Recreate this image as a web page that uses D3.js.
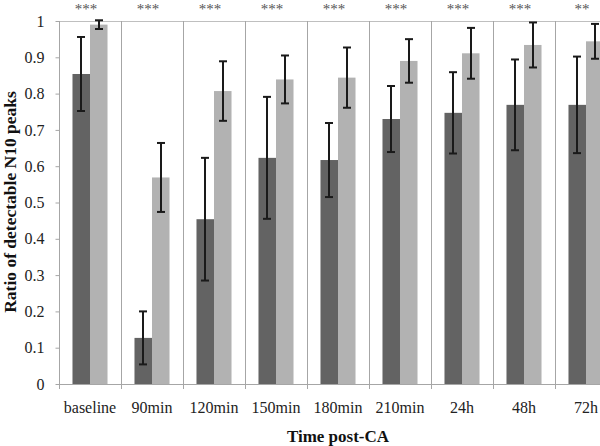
<!DOCTYPE html>
<html><head><meta charset="utf-8">
<script src="https://cdn.jsdelivr.net/npm/d3@7"></script>
<style>body{margin:0;background:#fff}svg{display:block}</style>
</head><body>
<script>
const categories = ["baseline","90min","120min","150min","180min","210min","24h","48h","72h"];
const darkValues = [0.854,0.127,0.454,0.623,0.617,0.730,0.747,0.769,0.769];
const darkErrors = [0.102,0.073,0.169,0.168,0.102,0.091,0.112,0.125,0.133];
const lightValues = [0.990,0.569,0.807,0.839,0.844,0.890,0.911,0.934,0.944];
const lightErrors = [0.012,0.095,0.082,0.066,0.083,0.060,0.070,0.062,0.048];
const significance = ["***","***","***","***","***","***","***","***","**"];
const yTicks = [0,0.1,0.2,0.3,0.4,0.5,0.6,0.7,0.8,0.9,1];

const W=600,H=446;
const mLeft=59, mTop=21, mBottom=384, catW=62;
const font="'Liberation Serif','Times New Roman',serif";
const svg=d3.select("body").append("svg").attr("width",W).attr("height",H);
const x=d3.scaleBand().domain(categories).range([mLeft,mLeft+catW*categories.length]).paddingInner(0).paddingOuter(0);
const y=d3.scaleLinear().domain([0,1]).range([mBottom,mTop]);
const sub=d3.scaleBand().domain(["d","l"]).range([0,x.bandwidth()]).paddingOuter(0.77).paddingInner(0);

const grid="#a6a6a6";
// top border
svg.append("line").attr("x1",mLeft).attr("x2",W).attr("y1",mTop+0.5).attr("y2",mTop+0.5).attr("stroke","#bfbfbf");
// category separators
svg.append("g").selectAll("line").data(categories).join("line")
 .attr("x1",d=>x(d)+x.bandwidth()+0.5).attr("x2",d=>x(d)+x.bandwidth()+0.5)
 .attr("y1",mTop).attr("y2",mBottom+5).attr("stroke",grid);

const series=[{k:"d",v:darkValues,e:darkErrors,c:"#636363"},{k:"l",v:lightValues,e:lightErrors,c:"#b2b2b2"}];
series.forEach(s=>{
 const g=svg.append("g");
 g.selectAll("rect").data(categories).join("rect")
  .attr("x",(d)=>x(d)+sub(s.k)).attr("width",sub.bandwidth())
  .attr("y",(d,i)=>y(s.v[i])).attr("height",(d,i)=>y(0)-y(s.v[i])).attr("fill",s.c);
});
series.forEach(s=>{
 const g=svg.append("g").attr("stroke","#1a1a1a").attr("stroke-width",2);
 categories.forEach((d,i)=>{
  const cx=Math.round(x(d)+sub(s.k)+sub.bandwidth()/2);
  const y1=y(s.v[i]+s.e[i]), y2=y(s.v[i]-s.e[i]);
  g.append("line").attr("x1",cx).attr("x2",cx).attr("y1",y1).attr("y2",y2);
  g.append("line").attr("x1",cx-4).attr("x2",cx+4).attr("y1",y1).attr("y2",y1);
  g.append("line").attr("x1",cx-4).attr("x2",cx+4).attr("y1",y2).attr("y2",y2);
 });
});

// y axis
const yAxis=d3.axisLeft(y).tickValues(yTicks).tickFormat(d=>d===0||d===1?String(d):d3.format(".1f")(d)).tickSize(4).tickPadding(11);
const ga=svg.append("g").attr("transform",`translate(${mLeft+0.5},0)`).call(yAxis);
ga.select(".domain").attr("stroke",grid).attr("d",`M0,${mTop}V${mBottom}`);
ga.selectAll(".tick line").attr("stroke",grid);
ga.selectAll("text").attr("font-family",font).attr("font-size",16).attr("fill","#222");
// x axis line
svg.append("line").attr("x1",mLeft).attr("x2",W).attr("y1",mBottom+0.5).attr("y2",mBottom+0.5).attr("stroke",grid);
svg.append("line").attr("x1",mLeft+0.5).attr("x2",mLeft+0.5).attr("y1",mBottom).attr("y2",mBottom+5).attr("stroke",grid);
// x labels
svg.append("g").selectAll("text").data(categories).join("text")
 .attr("x",d=>x(d)+x.bandwidth()/2).attr("y",413).attr("text-anchor","middle")
 .attr("font-family",font).attr("font-size",16).attr("fill","#222").text(d=>d);
// significance
svg.append("g").selectAll("text").data(categories).join("text")
 .attr("x",d=>x(d)+x.bandwidth()/2-4).attr("y",13.5).attr("text-anchor","middle")
 .attr("font-family",font).attr("font-size",15).attr("fill","#555")
 .text((d,i)=>significance[i]);
// titles
svg.append("text").attr("x",338).attr("y",442).attr("text-anchor","middle")
 .attr("font-family",font).attr("font-size",17).attr("font-weight","bold").attr("fill","#111").text("Time post-CA");
svg.append("text").attr("transform","translate(16,202) rotate(-90)").attr("text-anchor","middle")
 .attr("font-family",font).attr("font-size",17.5).attr("font-weight","bold").attr("fill","#111").text("Ratio of detectable N10 peaks");
</script>
</body></html>
